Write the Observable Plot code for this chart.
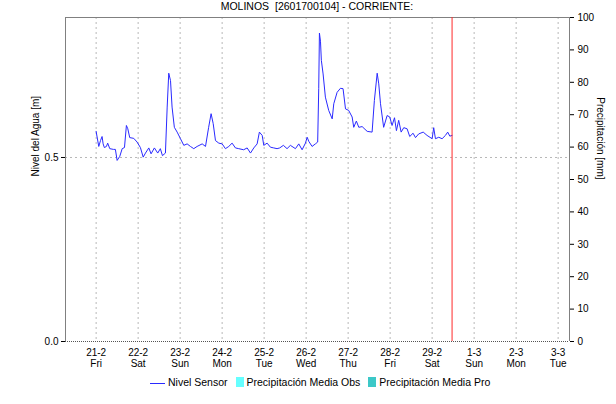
<!DOCTYPE html>
<html><head><meta charset="utf-8">
<script src="https://cdn.jsdelivr.net/npm/d3@7"></script>
<script src="https://cdn.jsdelivr.net/npm/@observablehq/plot@0.6"></script>
<style>
body{margin:0;background:#fff;font-family:"Liberation Sans",Arial,sans-serif;}
#wrap{position:relative;width:616px;height:404px;}
#chart{position:absolute;left:0;top:0;}
#title{position:absolute;left:65px;width:504px;top:0;text-align:center;font-size:10.5px;line-height:13px;color:#000;white-space:pre;}
#legend{position:absolute;top:376px;left:150px;text-align:left;font-size:10.5px;line-height:12px;color:#000;white-space:nowrap;}
#legend .item{display:inline-block;margin-right:8px;}
#legend .ln{display:inline-block;width:15px;height:0;border-top:1px solid #2a2aff;vertical-align:middle;margin-right:3px;}
#legend .sw{display:inline-block;width:8px;height:10px;vertical-align:-1px;margin-right:3px;}
</style></head><body>
<div id="wrap"><div id="chart"></div><div id="title"></div><div id="legend"></div></div>
<script>
const title = "MOLINOS  [2601700104] - CORRIENTE:";
const yLabelLeft = "Nivel del Agua [m]";
const yLabelRight = "Precipitación [mm]";
// hours since 2020-02-21 00:00 UTC
const hours = [0,1.5,2.5,3.4,4.0,4.7,5.9,6.6,7.8,9.9,11.0,12.0,13.5,14.9,16.2,17.3,18.1,19.2,21.5,23.4,
25.3,26.9,28.2,30.1,31.4,33.3,35.2,36.7,37.9,39.6,40.6,41.5,42.5,43.4,44.7,46.3,48.2,50.1,52.0,53.9,
55.8,57.7,60.6,62.5,64.3,65.7,66.9,68.2,70.1,72.0,73.9,75.8,77.7,79.6,81.5,84.3,86.3,88.2,90.1,92.0,
93.3,94.9,95.8,97.7,99.6,101.5,103.4,104.9,107.0,109.1,111.0,113.9,115.8,117.7,119.6,120.6,121.5,123.4,125.3,126.6,
127.2,127.6,128.2,128.7,129.7,131.0,132.9,134.9,135.8,137.7,139.6,141.1,142.5,144.3,146.3,147.2,148.7,150.1,152.0,154.9,
157.7,159.0,160.6,161.5,162.5,164.3,166.3,167.8,169.1,170.5,171.6,172.9,174.3,175.8,177.7,179.2,181.1,182.5,184.3,186.9,
189.1,192.0,192.9,193.9,195.8,197.7,199.6,200.9,202.1,203.4];
const levels = [0.571,0.530,0.546,0.557,0.537,0.527,0.530,0.539,0.524,0.522,0.522,0.492,0.503,0.524,0.527,0.587,0.578,0.554,0.552,0.542,
0.527,0.501,0.512,0.526,0.510,0.526,0.512,0.524,0.505,0.512,0.637,0.729,0.709,0.637,0.582,0.569,0.551,0.533,0.537,0.530,
0.524,0.530,0.537,0.530,0.582,0.619,0.592,0.546,0.539,0.537,0.524,0.530,0.539,0.526,0.524,0.521,0.526,0.512,0.526,0.537,
0.569,0.560,0.533,0.539,0.528,0.526,0.524,0.526,0.533,0.524,0.533,0.524,0.537,0.521,0.539,0.555,0.544,0.530,0.537,0.542,
0.687,0.838,0.816,0.764,0.727,0.664,0.628,0.605,0.646,0.677,0.688,0.687,0.632,0.628,0.610,0.582,0.599,0.582,0.584,0.571,
0.569,0.655,0.729,0.700,0.646,0.582,0.614,0.610,0.587,0.608,0.573,0.601,0.569,0.581,0.578,0.557,0.566,0.554,0.564,0.569,
0.560,0.551,0.581,0.551,0.555,0.551,0.560,0.569,0.558,0.560];
// precipitation series (no values shown in the period)
const precipObs = [];
const precipPro = [];
const dayLabels = ["21-2","22-2","23-2","24-2","25-2","26-2","27-2","28-2","29-2","1-3","2-3","3-3"];
const weekdays = ["Fri","Sat","Sun","Mon","Tue","Wed","Thu","Fri","Sat","Sun","Mon","Tue"];
const levelTicks = [0, 0.5];
const precipTicks = [0,10,20,30,40,50,60,70,80,90,100];
const levelMax = 0.8804;
const xRangeHours = [-17.5, 270.5];
const nowHours = 203.4;
const legendLabels = ["Nivel Sensor","Precipitación Media Obs","Precipitación Media Pro"];
const legendColors = ["#2a2aff","#66ffff","#3cc8c8"];

const t0 = Date.UTC(2020,1,21);
const H = 36e5, DAY = 864e5;
const series = hours.map((h,i)=>({date:new Date(t0+h*H), level:levels[i]}));
const xDomain = xRangeHours.map(h=>new Date(t0+h*H));
const dayTicks = dayLabels.map((_,i)=>new Date(t0+i*DAY));
const k = levelMax/100;
const grid = {stroke:"#b8b8b8", strokeDasharray:"2,3", strokeWidth:1};

const chart = Plot.plot({
  width:616, height:372,
  marginTop:17, marginBottom:31, marginLeft:65, marginRight:47,
  style:{fontFamily:"'Liberation Sans', Arial, sans-serif", fontSize:"10px", color:"#000", background:"#fff"},
  x:{type:"utc", domain:xDomain},
  y:{domain:[0, levelMax]},
  marks:[
    Plot.ruleX(dayTicks, grid),
    Plot.ruleY(levelTicks.filter(d=>d>0), grid),
    Plot.rectY(precipObs, {x1:"start", x2:"end", y:d=>d.mm*k, fill:legendColors[1]}),
    Plot.rectY(precipPro, {x1:"start", x2:"end", y:d=>d.mm*k, fill:legendColors[2]}),
    Plot.ruleY([0], {stroke:"#555", strokeDasharray:"1,1"}),
    Plot.ruleX(xDomain, {stroke:"#808080"}),
    Plot.ruleY([levelMax], {stroke:"#808080"}),
    Plot.line(series, {x:"date", y:"level", stroke:legendColors[0], strokeWidth:1}),
    Plot.ruleX([new Date(t0+nowHours*H)], {stroke:"#ff2a2a", strokeWidth:1}),
    Plot.axisX({ticks:dayTicks, tickSize:0, tickPadding:7, lineHeight:1.1, label:null,
      tickFormat:d=>{const i=Math.round((d-t0)/DAY); return dayLabels[i]+"\n"+weekdays[i];}}),
    Plot.axisY({ticks:levelTicks, tickSize:4, tickPadding:3, label:null, tickFormat:d=>d.toFixed(1)}),
    Plot.axisY({anchor:"right", ticks:precipTicks.map(p=>p*k), tickSize:4, tickPadding:4, label:null,
      tickFormat:d=>String(Math.round(d/k))}),
    Plot.text([yLabelLeft], {frameAnchor:"left", dx:-30, dy:-3, rotate:-90, text:d=>d, fontSize:10}),
    Plot.text([yLabelRight], {frameAnchor:"right", dx:31, rotate:90, text:d=>d, fontSize:10})
  ]
});
document.getElementById("chart").appendChild(chart);
document.getElementById("title").textContent = title;
const lg = document.getElementById("legend");
legendLabels.forEach((lab,i)=>{
  const it = document.createElement("span"); it.className="item";
  const sw = document.createElement("span");
  if(i===0){ sw.className="ln"; } else { sw.className="sw"; sw.style.background=legendColors[i]; }
  it.appendChild(sw); it.appendChild(document.createTextNode(lab));
  lg.appendChild(it);
});
</script>
</body></html>
